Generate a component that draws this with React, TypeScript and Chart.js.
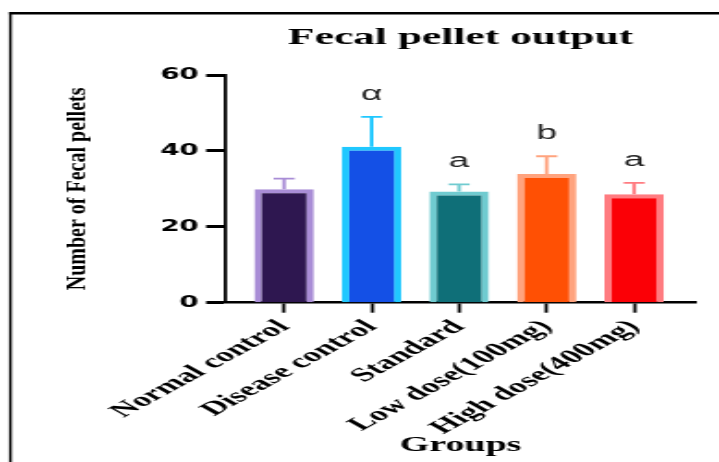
import { useEffect, useRef } from 'react';
import { Chart, registerables } from 'chart.js';

Chart.register(...registerables);

// Group names on the x axis
const groups = ['Normal control', 'Disease control', 'Standard', 'Low dose(100mg)', 'High dose(400mg)'];
// Mean number of fecal pellets per group
const meanPellets = [29.9, 41.1, 29.3, 33.9, 28.6];
// Upper error (SD) per group
const sdPellets = [2.8, 7.9, 1.9, 4.7, 3.0];
// Significance letters above the error bars
const sigLetters = ['', 'α', 'a', 'b', 'a'];
// Bar fill and edge colours
const fillColors = ['#2e1750', '#1450e6', '#0f6f78', '#ff5004', '#fb0006'];
const edgeColors = ['#a98dd6', '#20c8ff', '#70cbd0', '#ffa37e', '#ff7b80'];
// Value axis
const yMin = 0;
const yMax = 60;
const yStep = 20;

// The figure is drawn narrow and then widened horizontally.
const W = 389;
const H = 462;
const SX = 719 / W;

const serif = "'Liberation Serif', 'Times New Roman', serif";
const sans = "'Liberation Sans', Arial, sans-serif";

const framePlugin = {
  id: 'frame',
  beforeDraw(chart: any) {
    const { ctx } = chart;
    ctx.save();
    ctx.fillStyle = '#000';
    ctx.fillRect(9 / SX, 12, W, 2.5);
    ctx.fillRect(9 / SX, 12, 2.7 / SX, H);
    ctx.restore();
  },
};

const errorBarPlugin = {
  id: 'errorBars',
  afterDatasetsDraw(chart: any) {
    const { ctx } = chart;
    const yScale = chart.scales.y;
    const meta = chart.getDatasetMeta(0);
    ctx.save();
    meta.data.forEach((bar: any, i: number) => {
      const x = bar.x;
      const top = yScale.getPixelForValue(meanPellets[i]);
      const hi = yScale.getPixelForValue(meanPellets[i] + sdPellets[i]);
      ctx.strokeStyle = edgeColors[i];
      ctx.lineWidth = 1.9;
      ctx.beginPath();
      ctx.moveTo(x, top);
      ctx.lineTo(x, hi);
      ctx.moveTo(x - 5.7, hi);
      ctx.lineTo(x + 5.7, hi);
      ctx.stroke();
      if (sigLetters[i]) {
        ctx.fillStyle = '#222';
        ctx.font = `20px ${sans}`;
        ctx.textAlign = 'center';
        ctx.textBaseline = 'alphabetic';
        ctx.fillText(sigLetters[i], x, hi - 17);
      }
    });
    ctx.restore();
  },
};

// Vertical axis title, drawn with only a slight horizontal widening
const yTitlePlugin = {
  id: 'yTitle',
  afterDraw(chart: any) {
    const { ctx, chartArea } = chart;
    ctx.save();
    ctx.translate(42.7, (chartArea.top + chartArea.bottom) / 2);
    ctx.scale(1.25 / SX, 1);
    ctx.rotate(-Math.PI / 2);
    ctx.font = `bold 20px ${serif}`;
    ctx.fillStyle = '#000';
    ctx.textAlign = 'center';
    ctx.textBaseline = 'middle';
    ctx.fillText('Number of Fecal pellets', 0, 0);
    ctx.restore();
  },
};

export default function App() {
  const canvasRef = useRef<HTMLCanvasElement | null>(null);

  useEffect(() => {
    if (!canvasRef.current) return;
    const chart = new Chart(canvasRef.current, {
      type: 'bar',
      data: {
        datasets: [
          {
            data: meanPellets.map((v, i) => ({ x: i, y: v })),
            backgroundColor: fillColors,
            borderColor: edgeColors,
            borderWidth: 4,
            borderSkipped: 'start',
            categoryPercentage: 1,
            barPercentage: 0.68,
          },
        ],
      },
      options: {
        responsive: false,
        animation: false,
        devicePixelRatio: 1,
        layout: { padding: { left: 0, right: 12.9, top: 0, bottom: 0 } },
        plugins: {
          legend: { display: false },
          tooltip: { enabled: false },
          title: {
            display: true,
            text: 'Fecal pellet output',
            fullSize: false,
            color: '#000',
            font: { family: serif, size: 23.5, weight: 'bold', lineHeight: 1.2 },
            padding: { top: 24, bottom: 22.9 },
          },
        },
        scales: {
          x: {
            type: 'linear',
            offset: false,
            min: -0.663,
            max: 4.697,
            afterFit(scale: any) {
              scale.height = H - 302.7;
            },
            ticks: {
              stepSize: 1,
              includeBounds: false,
              autoSkip: false,
              minRotation: 45,
              maxRotation: 45,
              padding: 3,
              color: '#000',
              font: { family: serif, size: 19.5, weight: 'bold' },
              callback: (v: any) => groups[v as number] ?? '',
            },
            grid: {
              offset: false,
              drawOnChartArea: false,
              drawTicks: true,
              tickLength: 10,
              tickWidth: 1.8,
              tickColor: '#000',
            },
            border: { display: true, color: '#000', width: 2.5 },
            title: {
              display: true,
              text: 'Groups',
              color: '#000',
              font: { family: serif, size: 20.5, weight: 'bold', lineHeight: 1.2 },
              padding: { top: 0, bottom: 4 },
            },
          },
          y: {
            min: yMin,
            max: yMax,
            afterFit(scale: any) {
              scale.width = 122.3;
            },
            ticks: {
              stepSize: yStep,
              padding: 4,
              color: '#000',
              font: { family: "'DejaVu Sans', sans-serif", size: 15, weight: 'bold' },
            },
            grid: {
              drawOnChartArea: false,
              drawTicks: true,
              tickLength: 10.8,
              tickWidth: 3,
              tickColor: '#000',
            },
            border: { display: true, color: '#000', width: 1.8 },
          },
        },
      },
      plugins: [framePlugin, errorBarPlugin, yTitlePlugin],
    } as any);
    return () => chart.destroy();
  }, []);

  return (
    <div
      style={{
        position: 'fixed',
        left: 0,
        top: 0,
        width: '100vw',
        height: '100vh',
        overflow: 'hidden',
        background: '#fff',
      }}
    >
      <div
        style={{
          width: W,
          height: H,
          transform: `scaleX(${SX})`,
          transformOrigin: '0 0',
        }}
      >
        <canvas ref={canvasRef} width={W} height={H} style={{ display: 'block' }} />
      </div>
    </div>
  );
}
